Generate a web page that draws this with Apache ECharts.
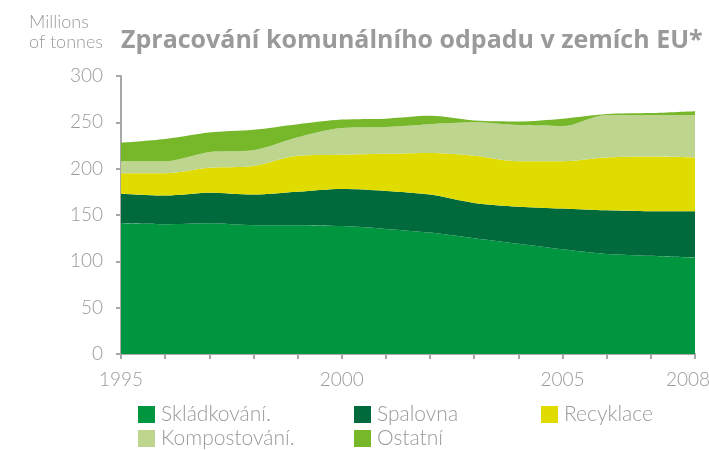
<!DOCTYPE html>
<html><head><meta charset="utf-8">
<script src="https://cdn.jsdelivr.net/npm/echarts@6/dist/echarts.min.js"></script>
<style>html,body{margin:0;padding:0;background:#fff}#c{width:709px;height:450px}</style>
</head><body><div id="c"></div>
<script>
const years = ['1995','1996','1997','1998','1999','2000','2001','2002','2003','2004','2005','2006','2007','2008'];
const shownYears = ['1995','2000','2005','2008'];
const skladkovani = [141,140,141,139,139,138,135,131,125,119,113,108,106,104];
const spalovna    = [32,31,33,33,36,40,41,41,38,40,44,47,48,50];
const recyklace   = [22,24,27,31,39,37,40,45,51,49,51,57,59,58];
const kompost     = [13,13,17,17,20,29,29,31,36,39,38,46,45,46];
const ostatni     = [20,24,21,22,14,9,9,9,2,4,8,1,2,4];
const yTicks = [0,50,100,150,200,250,300];

const names = ['Skládkování.','Spalovna','Recyklace','Kompostování.','Ostatní'];
const colors = ['#00953f','#006a3c','#e0dc00','#bdd58f','#77b82a'];
const datas = [skladkovani,spalovna,recyklace,kompost,ostatni];
const font = 'Lato';
const gray = '#9a9a9a';
const lastYear = years[years.length-1];

const chart = echarts.init(document.getElementById('c'));
const legendPos = [[138,404],[354,404],[541,404],[138,428],[354,428]];
chart.setOption({
  animation:false,
  graphic:[
    {type:'text',left:121,top:28,style:{text:'Zpracování komunálního odpadu v zemích EU*',
      font:'bold 25px "Open Sans"',fill:gray}},
    {type:'text',right:606,top:12,style:{text:'Millions\nof tonnes',align:'right',
      font:'300 18px Lato',lineHeight:20,fill:gray}}
  ],
  legend: names.map((n,i)=>({data:[n],left:legendPos[i][0],top:legendPos[i][1],padding:0,
    itemWidth:17,itemHeight:17,itemGap:4,icon:'rect',
    textStyle:{fontFamily:font,fontWeight:300,fontSize:21,color:gray,padding:[0,0,0,1]}})),
  grid:{left:121,right:14,top:76,bottom:96,containLabel:false,outerBoundsMode:'none'},
  xAxis:{type:'category',data:years,boundaryGap:false,
    axisLine:{lineStyle:{color:'#a8a8a8',width:2}},
    axisTick:{show:true,length:5,interval:0,lineStyle:{color:'#a8a8a8',width:2}},
    axisLabel:{interval:(i,v)=>shownYears.includes(v),margin:16,fontFamily:font,fontWeight:300,fontSize:19,color:gray,
      formatter:v=>shownYears.includes(v)?(v===lastYear?'{last|'+v+'}':v):'',
      rich:{last:{fontFamily:font,fontWeight:300,fontSize:19,color:gray,padding:[0,14,0,0]}}}},
  yAxis:{type:'value',min:0,max:300,interval:50,
    axisLine:{show:true,lineStyle:{color:'#a8a8a8',width:2}},
    axisTick:{show:true,length:5,lineStyle:{color:'#a8a8a8',width:2}},
    splitLine:{show:false},
    axisLabel:{margin:18,fontFamily:font,fontWeight:300,fontSize:19,color:gray,
      formatter:v=>yTicks.includes(v)?String(v):''}},
  series: names.map((n,i)=>({name:n,type:'line',stack:'t',data:datas[i],smooth:0.3,
    symbol:'none',lineStyle:{width:0},itemStyle:{color:colors[i]},
    areaStyle:{color:colors[i],opacity:1}}))
});
</script></body></html>
